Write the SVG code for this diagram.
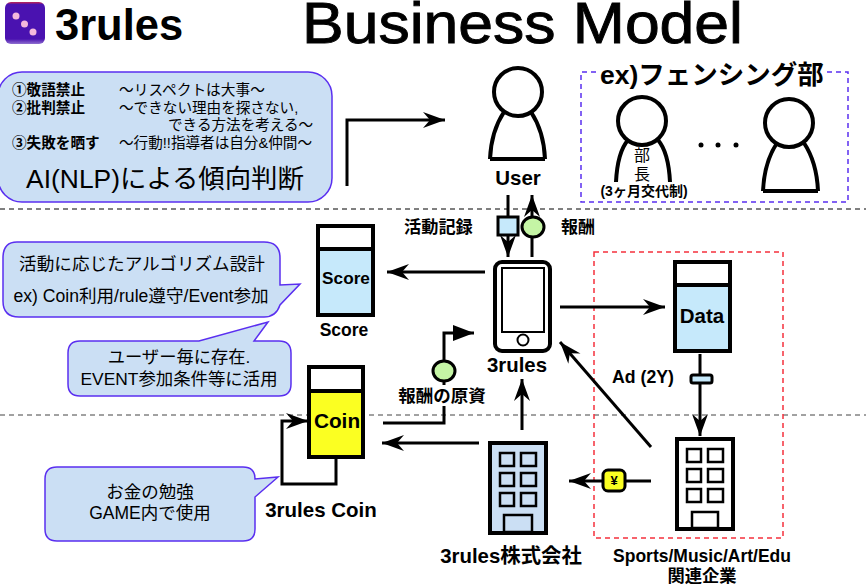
<svg xmlns="http://www.w3.org/2000/svg" width="866" height="585" viewBox="0 0 866 585">
<style>
text{font-family:"Liberation Sans","Noto Sans CJK JP",sans-serif;fill:#000}
.b{font-weight:bold}
.m{text-anchor:middle}
.balloon{fill:#cbdff4;stroke:#5a2ff0;stroke-width:1.5}
.ink{fill:none;stroke:#000;stroke-width:4}
.conn{fill:none;stroke:#000;stroke-width:3}
.store{fill:#fff;stroke:#000;stroke-width:4}
.win{fill:#fff;stroke:#000;stroke-width:2.5}
.winb{fill:#cbdff4;stroke:#000;stroke-width:2.5}
.sep{stroke-width:1;stroke-dasharray:5 4}
</style>
<defs>
<marker id="open" markerUnits="userSpaceOnUse" markerWidth="30" markerHeight="24" refX="23" refY="12" orient="auto"><path d="M23,12 L1,4 L8,12 L1,20 Z" fill="#000"/></marker>
<marker id="block" markerUnits="userSpaceOnUse" markerWidth="30" markerHeight="24" refX="23" refY="12" orient="auto"><path d="M23,12 L2,4 L2,20 Z" fill="#000"/></marker>
<linearGradient id="logo" x1="0" y1="0" x2="0" y2="1"><stop offset="0" stop-color="#c2244f"/><stop offset=".06" stop-color="#4a12b0"/><stop offset=".88" stop-color="#4a12b0"/><stop offset="1" stop-color="#8f6fd0"/></linearGradient>
</defs>
<rect width="866" height="585" fill="#fff"/>
<g id="logo-mark"><rect x="5" y="2" width="40" height="42" rx="6" fill="url(#logo)"/><circle cx="16" cy="16" r="3.5" fill="#f4b8dc"/><circle cx="24.500" cy="24" r="3.500" fill="#f4b8dc"/><circle cx="33" cy="32" r="3.500" fill="#f4b8dc"/></g>
<text class="b" x="55" y="40" font-size="43.500">3rules</text>
<text x="302" y="43" font-size="57.500" textLength="441" lengthAdjust="spacingAndGlyphs" stroke="#000" stroke-width=".9">Business Model</text>
<line class="sep" x1="0" y1="209" x2="866" y2="209" stroke="#000"/>
<line class="sep" x1="0" y1="415" x2="866" y2="415" stroke="#444"/>
<g id="rules-balloon"><rect class="balloon" x="-2" y="72" width="334" height="130" rx="24"/>
<text class="b" x="12" y="95" font-size="14.600">①敬語禁止</text><text x="119" y="95" font-size="14.700">〜リスペクトは大事〜</text>
<text class="b" x="12" y="113" font-size="14.600">②批判禁止</text><text x="119" y="113" font-size="14.600">〜できない理由を探さない,</text>
<text x="168" y="130" font-size="14.600">できる方法を考える〜</text>
<text class="b" x="12" y="148" font-size="14.600">③失敗を晒す</text><text x="119" y="148" font-size="14.600">〜行動!!指導者は自分&amp;仲間〜</text>
<text class="m" x="165" y="188" font-size="26.400">AI(NLP)による傾向判断</text></g>
<g id="user"><path class="ink" d="M490,159 C491,136 498,121 504,112 M545,159 C544,136 537,121 531,112 M490,159 H545"/><circle class="ink" cx="518" cy="92" r="24" fill="#fff"/><text class="b m" x="518" y="185" font-size="20.500">User</text></g>
<g id="fencing-club"><path d="M596,72 H581 V202 H848 V72 H827" fill="none" stroke="#5a2ff0" stroke-width="1.5" stroke-dasharray="5 4"/>
<text class="b" x="600" y="84" font-size="26.500">ex)フェンシング部</text>
<path class="ink" d="M616,182 C617,162 622,147 628,140 M670,182 C669,162 664,147 658,140"/><circle class="ink" cx="642" cy="121" r="24"/>
<text class="m" x="642" y="161" font-size="16">部</text><text class="m" x="642" y="179.500" font-size="16">長</text>
<text class="b m" x="644" y="196" font-size="14">(3ヶ月交代制)</text>
<circle cx="701" cy="145" r="2.500"/><circle cx="718" cy="145" r="2.500"/><circle cx="736" cy="145" r="2.500"/>
<path class="ink" d="M763,191 C764,168 771,152 777,143 M818,191 C817,168 810,152 804,143 M763,191 H818"/><circle class="ink" cx="789" cy="123" r="24"/></g>
<g id="sports-box"><rect x="594" y="252" width="189" height="286" fill="none" stroke="#f5303c" stroke-width="1.5" stroke-dasharray="5 4"/></g>
<g id="phone"><rect class="ink" x="495" y="262" width="55" height="89" rx="7"/><rect x="502" y="268" width="42" height="64" fill="none" stroke="#000" stroke-width="2"/><circle cx="523" cy="340" r="5.500" fill="none" stroke="#000" stroke-width="2"/><text class="b m" x="517" y="372" font-size="20.400">3rules</text></g>
<g id="score"><rect class="store" x="318" y="226" width="55" height="89"/><rect x="318" y="249" width="55" height="66" fill="#c6e9fb" stroke="#000" stroke-width="4"/><text class="b m" x="346" y="284" font-size="17.200">Score</text><text class="b m" x="344" y="336" font-size="17.500">Score</text></g>
<g id="coin"><rect class="store" x="309" y="367" width="54" height="90"/><rect x="309" y="391" width="54" height="66" fill="#fbff22" stroke="#000" stroke-width="4"/><text class="b m" x="337" y="428" font-size="20.800">Coin</text><text class="b m" x="321" y="517" font-size="20.500">3rules Coin</text></g>
<g id="data"><rect class="store" x="675" y="262" width="55" height="89"/><rect x="675" y="285" width="55" height="66" fill="#c6e9fb" stroke="#000" stroke-width="4"/><text class="b m" x="702" y="323" font-size="20.500">Data</text></g>
<g id="company-3rules"><rect x="490" y="443" width="56" height="90" fill="#cbdff4" stroke="#000" stroke-width="4"/>
<rect class="winb" x="500" y="453" width="14" height="13"/><rect class="winb" x="521" y="453" width="15" height="13"/><rect class="winb" x="500" y="473" width="14" height="13"/><rect class="winb" x="521" y="473" width="15" height="13"/><rect class="winb" x="500" y="493" width="14" height="13"/><rect class="winb" x="521" y="493" width="15" height="13"/><rect class="winb" x="504" y="515" width="28" height="17"/>
<text class="b m" x="511" y="563" font-size="20.400">3rules株式会社</text></g>
<g id="company-sports"><rect class="store" x="677" y="439" width="56" height="90"/>
<rect class="win" x="687" y="449" width="14" height="13"/><rect class="win" x="708" y="449" width="15" height="13"/><rect class="win" x="687" y="469" width="14" height="13"/><rect class="win" x="708" y="469" width="15" height="13"/><rect class="win" x="687" y="489" width="14" height="13"/><rect class="win" x="708" y="489" width="15" height="13"/><rect class="win" x="692" y="512" width="26" height="16"/>
<text class="b m" x="702" y="562" font-size="17.500">Sports/Music/Art/Edu</text><text class="b m" x="702" y="582" font-size="17.300">関連企業</text></g>
<g id="connectors">
<path class="conn" d="M347,186 V120 H445" marker-end="url(#open)"/>
<path class="conn" d="M508,195 V257" marker-end="url(#open)"/>
<path class="conn" d="M532,257 V195" marker-end="url(#open)"/>
<path class="conn" d="M485,272 H387" marker-end="url(#open)"/>
<path class="conn" d="M560,307 H665" marker-end="url(#open)"/>
<path class="conn" d="M700,354 V436" marker-end="url(#open)"/>
<path class="conn" d="M522,430 V379" marker-end="url(#open)"/>
<path class="conn" d="M651,447 L560,342" marker-end="url(#open)"/>
<path class="conn" d="M651,481 H569" marker-end="url(#open)"/>
<path class="conn" d="M479,443 H382" marker-end="url(#open)"/>
<path class="conn" d="M336,457 V484 H282 V421 H308" marker-end="url(#open)"/>
<path class="conn" d="M383,423 H444 V406 M444,385 V333 H474" marker-end="url(#block)"/>
<rect x="498" y="217" width="20" height="18" fill="#c6e9fb" stroke="#000" stroke-width="3"/>
<ellipse cx="533" cy="227" rx="11" ry="10" fill="#c5f5a5" stroke="#000" stroke-width="3"/>
<ellipse cx="444" cy="371" rx="11" ry="10" fill="#c5f5a5" stroke="#000" stroke-width="3"/>
<rect x="691" y="375" width="21" height="8" rx="2" fill="#c6e9fb" stroke="#000" stroke-width="3"/>
<rect x="603" y="470" width="22" height="21" rx="5" fill="#fbff22" stroke="#000" stroke-width="3"/>
<text class="b m" x="614" y="485" font-size="13">¥</text>
<text class="b" x="404" y="233" font-size="17.200">活動記録</text>
<text class="b" x="561" y="233" font-size="17">報酬</text>
<text class="b m" x="442" y="402" font-size="17.500">報酬の原資</text>
<text class="b" x="612" y="383" font-size="17.700">Ad (2Y)</text>
</g>
<g id="balloon-algorithm"><path class="balloon" d="M17,242 H264 Q280,242 280,258 V285 L300,284 L280,305 Q276,317 264,317 H19 Q3,317 3,301 V258 Q3,242 17,242 Z"/><text class="m" x="142" y="270" font-size="17.600">活動に応じたアルゴリズム設計</text><text class="m" x="141" y="302" font-size="17.600">ex) Coin利用/rule遵守/Event参加</text></g>
<g id="balloon-event"><path class="balloon" d="M80,341 H199 L268,322 L254,341 H279 Q291,341 291,353 V384 Q291,396 279,396 H80 Q68,396 68,384 V353 Q68,341 80,341 Z"/><text class="m" x="179" y="363" font-size="17.300">ユーザー毎に存在.</text><text class="m" x="179" y="385" font-size="17.400">EVENT参加条件等に活用</text></g>
<g id="balloon-coin"><path class="balloon" d="M57,467 H243 Q255,467 255,479 L278,477 L255,497 V529 Q255,541 243,541 H57 Q45,541 45,529 V479 Q45,467 57,467 Z"/><text class="m" x="150" y="498" font-size="17.500">お金の勉強</text><text class="m" x="150" y="519" font-size="17.500">GAME内で使用</text></g>
</svg>
